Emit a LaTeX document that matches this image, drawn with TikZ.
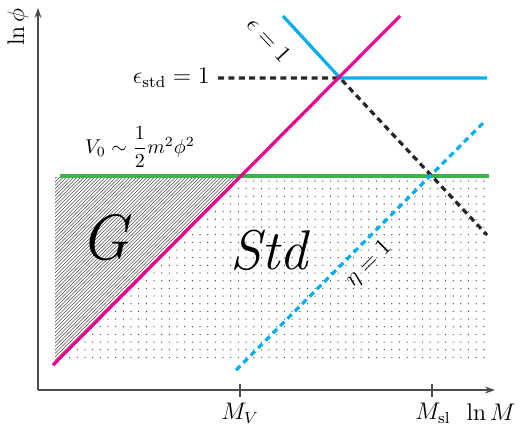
\documentclass[12pt,tikz,border=0pt]{standalone}
\usepackage{amsmath}
\usetikzlibrary{arrows.meta,calc}
\definecolor{pinkline}{HTML}{EC008C}
\definecolor{cyanline}{HTML}{00AEEF}
\definecolor{greenline}{HTML}{39B54A}

\begin{document}
\begin{tikzpicture}[x=0.5pt,y=-0.5pt,
    axis/.style={draw=black!70,line width=0.6pt,-{Stealth[length=5pt,width=3.5pt]}},
    bound/.style={line width=1.6pt},
    dashbound/.style={line width=1.6pt,dash pattern=on 3pt off 2.2pt},
    region/.style={font=\fontsize{32}{32}\selectfont\itshape}]
  \useasboundingbox (0,0) rectangle (522,424);
  % corners of the plane
  \coordinate (o) at (38,390);
  \coordinate (ytip) at (38,8);
  \coordinate (xtip) at (495,390);
  \coordinate (pinklo) at (53,365);
  \coordinate (pinkhi) at (400,16);
  \coordinate (greenl) at (60,176);
  \coordinate (greenr) at (489,176);
  \coordinate (gx) at (242,176);
  \coordinate (kink) at (340,78);
  % hatched region
  \begin{scope}
    \clip (55,177) -- (gx) -- (55,363) -- cycle;
    \foreach \hc in {230,233.5,...,422}
      \draw[black!70,line width=0.33pt] (\hc-400,400) -- (\hc,0);
  \end{scope}
  % dotted region
  \foreach \py in {181,188.67,...,362}
    \foreach \px in {62,69.67,...,490}{
      \pgfmathtruncatemacro\keep{(\px+\py>423) ? 1 : 0}
      \ifnum\keep=1 \fill[black!80] (\px,\py) circle (0.32pt);\fi
    }
  % axes
  \draw[axis] (o) -- (ytip);
  \draw[axis] (o) -- (xtip);
  \coordinate (mv) at (240,390);
  \coordinate (msl) at (432,390);
  \draw[black!70,line width=0.6pt] ($(mv)+(0,-6)$) -- ($(mv)+(0,7)$);
  \draw[black!70,line width=0.6pt] ($(msl)+(0,-6)$) -- ($(msl)+(0,7)$);
  \node[anchor=north,inner sep=1pt] (lmv) at (240,401) {$M_V$};
  \node[anchor=north,inner sep=1pt] (lmsl) at (433,401) {$M_{\rm sl}$};
  \node[anchor=north,inner sep=1pt] (lnm) at (491,401) {$\ln M$};
  \node[rotate=90] (lnphi) at (18,27) {$\ln\phi$};
  % boundaries
  \draw[bound,greenline] (greenl) -- (greenr);
  \draw[dashbound,black!85] (218,78) -- (kink) -- (487,235);
  \draw[dashbound,cyanline] (236,370) -- (486,120);
  \draw[bound,cyanline] (283,16) -- (kink) -- (487,78);
  \draw[bound,pinkline] (pinklo) -- (pinkhi);
  % labels
  \node[anchor=east,inner sep=1pt] (estd) at (212,78) {$\epsilon_{\rm std}=1$};
  \node[rotate=-47] (eps) at (269,40) {$\epsilon=1$};
  \node[rotate=45] (eta) at (369,264) {$\eta=1$};
  \node[font=\fontsize{10}{12}\selectfont] (vzero) at (140,147) {$V_0\sim\dfrac{1}{2}m^2\phi^2$};
  \node[region] (gl) at (105,238) {G};
  \node[region,font=\fontsize{28}{28}\selectfont\itshape] (stdl) at (269,250) {Std};
\end{tikzpicture}
\end{document}
